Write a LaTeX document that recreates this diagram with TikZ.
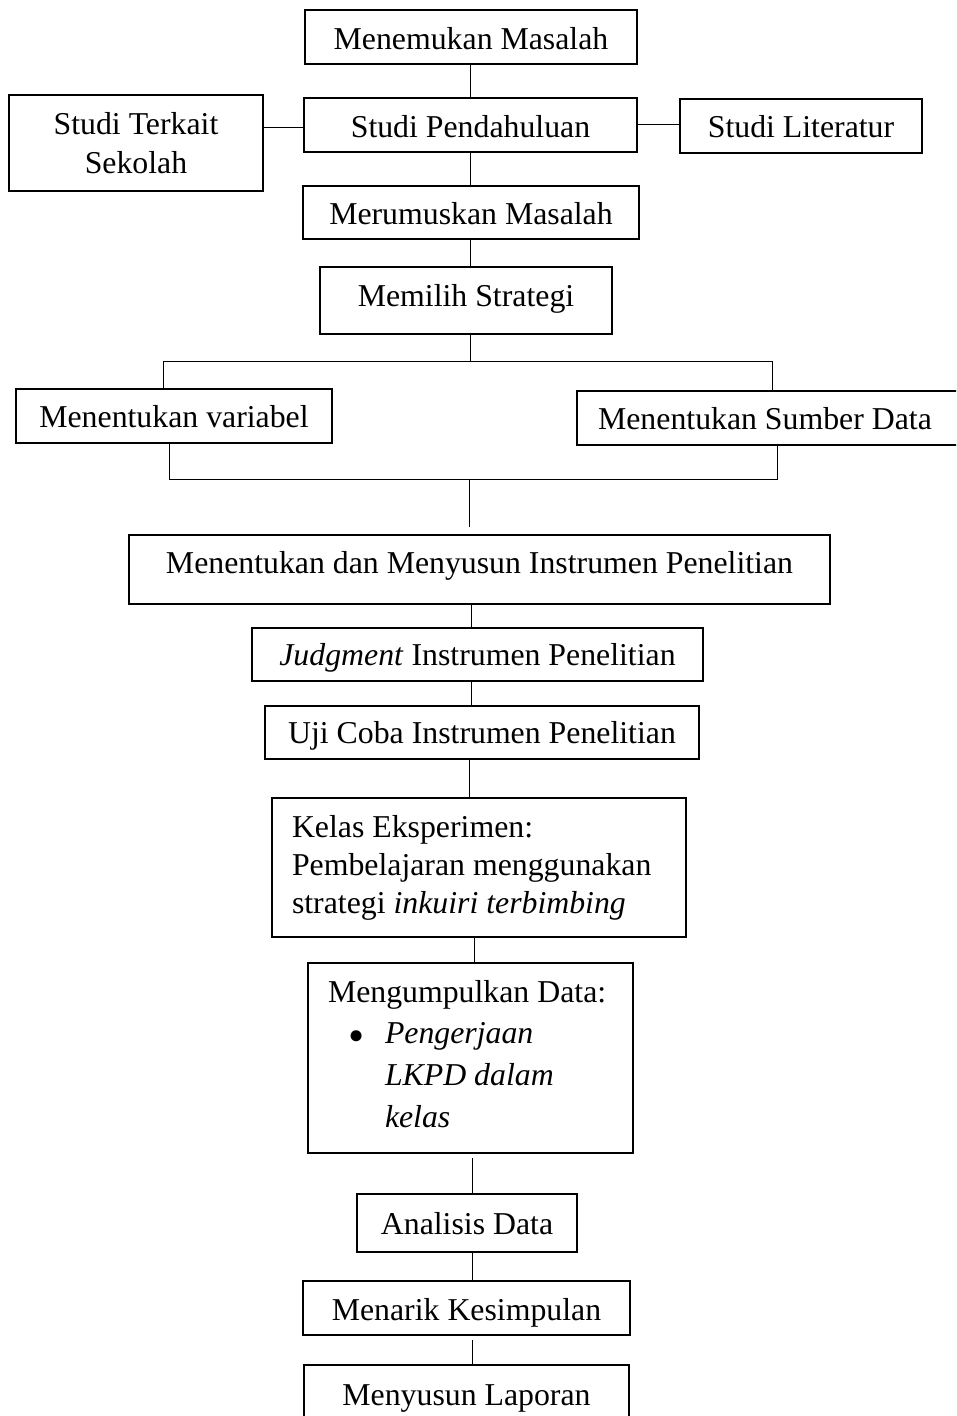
\documentclass[tikz,border=0pt]{standalone}
\usepackage{fontspec}
\setmainfont{Liberation Serif}
\newcommand{\rb}[2]{\raisebox{-#1pt}[0pt][0pt]{#2}}
\begin{document}
\begin{tikzpicture}[x=1pt,y=-1pt]
\tikzset{
  box/.style={draw=black, line width=1.2pt, inner sep=0pt, font=\fontsize{31.8}{38}\selectfont},
  conn/.style={draw=black, line width=1pt}
}
\useasboundingbox (0,0) rectangle (956,1416);
\clip (0,0) rectangle (956,1416);
\fill[white] (0,0) rectangle (956,1416);

\node[box, minimum width=332pt, minimum height=54pt] (n1) at (471,37) {\rb{13}{Menemukan Masalah}};
\node[box, minimum width=333pt, minimum height=54pt] (n2) at (470.5,125) {\rb{12}{Studi Pendahuluan}};
\node[box, minimum width=254pt, minimum height=96pt] (n3) at (136,143) {\rb{-9}{\fontsize{31.8}{39}\selectfont\begin{tabular}[t]{@{}c@{}}Studi Terkait\\Sekolah\end{tabular}}};
\node[box, minimum width=242pt, minimum height=54pt] (n4) at (801,126) {\rb{11}{Studi Literatur}};
\node[box, minimum width=336pt, minimum height=53pt] (n5) at (471,212.5) {\rb{11.5}{Merumuskan Masalah}};
\node[box, minimum width=292pt, minimum height=67pt] (n6) at (466,300.5) {\rb{5.5}{Memilih Strategi}};
\node[box, minimum width=316pt, minimum height=54pt] (n7) at (174,416) {\rb{11}{Menentukan variabel}};
\node[box, minimum width=388pt, minimum height=54pt] (n8) at (771,418) {\rb{11}{\hspace*{-12pt}Menentukan Sumber Data}};
\node[box, minimum width=701pt, minimum height=69pt] (n9) at (479.5,569.5) {\rb{3.5}{Menentukan dan Menyusun Instrumen Penelitian}};
\node[box, minimum width=451pt, minimum height=53pt] (n10) at (477.5,654.5) {\rb{10.5}{\textit{Judgment} Instrumen Penelitian}};
\node[box, minimum width=434pt, minimum height=53pt] (n11) at (482,732.5) {\rb{10.5}{Uji Coba Instrumen Penelitian}};
\node[box, minimum width=414pt, minimum height=139pt] (n12) at (479,867.5) {\rb{-30.5}{\makebox[374pt][l]{\fontsize{31.8}{38}\selectfont\begin{tabular}[t]{@{}l@{}}Kelas Eksperimen:\\Pembelajaran menggunakan\\strategi \textit{inkuiri terbimbing}\end{tabular}}}};
\node[box, minimum width=325pt, minimum height=190pt] (n13) at (470.5,1058) {\rb{-56}{\makebox[285pt][l]{\fontsize{31.8}{41.7}\selectfont\begin{tabular}[t]{@{}l@{}}Mengumpulkan Data:\\\hspace*{20pt}\makebox[37pt][l]{\raisebox{-8pt}{\scalebox{1.45}{\textbullet}}}\textit{Pengerjaan}\\\hspace*{57pt}\textit{LKPD dalam}\\\hspace*{57pt}\textit{kelas}\end{tabular}}}};
\node[box, minimum width=220pt, minimum height=58pt] (n14) at (467,1223) {\rb{11}{Analisis Data}};
\node[box, minimum width=327pt, minimum height=54pt] (n15) at (466.5,1308) {\rb{12}{Menarik Kesimpulan}};
\node[box, minimum width=325pt, minimum height=75pt] (n16) at (466.5,1402.5) {\rb{2.5}{Menyusun Laporan}};

\coordinate (xa) at (470.5,0);
\coordinate (xb) at (470,0);
\coordinate (xc) at (471,0);
\coordinate (xd) at (469,0);
\coordinate (xe) at (474,0);
\coordinate (xf) at (472,0);
\coordinate (jl) at (163,361);
\coordinate (jr) at (772,361);
\coordinate (kl) at (169,479);
\coordinate (kr) at (777,479);
\coordinate (km) at (469,480);
\coordinate (ke) at (469,527);
\coordinate (g1) at (472,1158);
\coordinate (g2) at (472,1340);

\draw[conn] (xa |- n1.south) -- (xa |- n2.north);
\draw[conn] ([yshift=16pt]n3.east) coordinate (t1) -- (t1 -| n2.west);
\draw[conn] ([yshift=1pt]n2.east) coordinate (t2) -- (t2 -| n4.west);
\draw[conn] (xa |- n2.south) -- (xa |- n5.north);
\draw[conn] (xb |- n5.south) -- (xb |- n6.north);
\draw[conn] (xb |- n6.south) -- (xb |- jl);
\draw[conn] (jl |- n7.north) -- (jl) -- (jr) -- (jr |- n8.north);
\draw[conn] (kl |- n7.south) -- (kl) -- (kr) -- (kr |- n8.south);
\draw[conn] (km) -- (ke);
\draw[conn] (xc |- n9.south) -- (xc |- n10.north);
\draw[conn] (xc |- n10.south) -- (xc |- n11.north);
\draw[conn] (xd |- n11.south) -- (xd |- n12.north);
\draw[conn] (xe |- n12.south) -- (xe |- n13.north);
\draw[conn] (g1) -- (g1 |- n14.north);
\draw[conn] (xf |- n14.south) -- (xf |- n15.north);
\draw[conn] (g2) -- (g2 |- n16.north);
\end{tikzpicture}
\end{document}
